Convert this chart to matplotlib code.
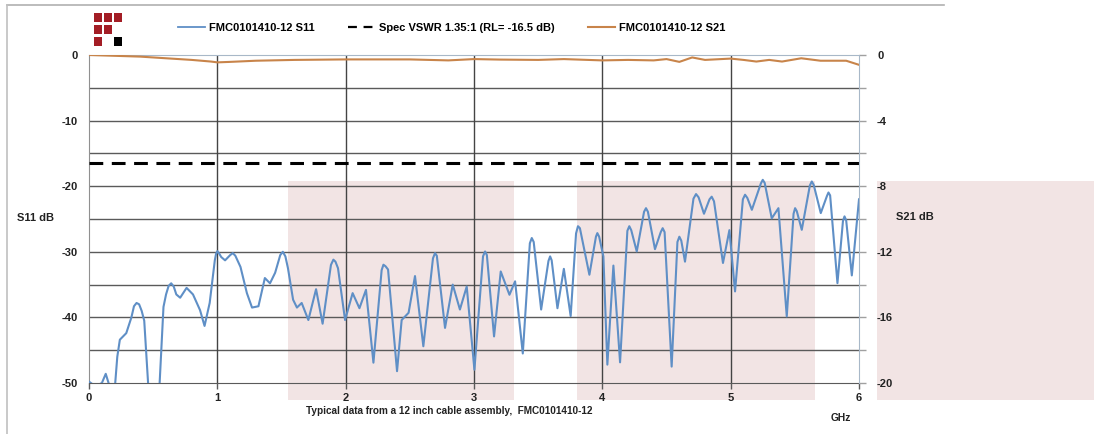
import matplotlib
matplotlib.use("Agg")
import matplotlib.pyplot as plt
from matplotlib.patches import Rectangle
from matplotlib.lines import Line2D

plt.rcParams['font.family'] = ['Liberation Sans', 'DejaVu Sans']
plt.rcParams['font.weight'] = 'bold'

# S11 return loss, GHz / dB, 10 per row
s11_freq = [0.0, 0.05, 0.1, 0.13, 0.16, 0.2, 0.22, 0.24, 0.29, 0.33,
            0.35, 0.37, 0.39, 0.41, 0.43, 0.46, 0.48, 0.53, 0.55, 0.58,
            0.60, 0.62, 0.64, 0.66, 0.68, 0.71, 0.76, 0.81, 0.865, 0.9,
            0.94, 0.98, 0.99, 1.0, 1.015, 1.03, 1.06, 1.10, 1.12, 1.14,
            1.18, 1.23, 1.27, 1.32, 1.37, 1.41, 1.45, 1.49, 1.51, 1.53,
            1.55, 1.59, 1.62, 1.657, 1.709, 1.769, 1.82, 1.885, 1.904, 1.92,
            1.94, 1.995, 2.054, 2.107, 2.158, 2.216, 2.28, 2.294, 2.31, 2.33,
            2.40, 2.436, 2.49, 2.54, 2.605, 2.68, 2.696, 2.71, 2.774, 2.834,
            2.89, 2.943, 3.003, 3.07, 3.086, 3.10, 3.156, 3.208, 3.276, 3.32,
            3.38, 3.435, 3.45, 3.465, 3.523, 3.58, 3.593, 3.605, 3.65, 3.70,
            3.753, 3.795, 3.81, 3.825, 3.899, 3.95, 3.961, 3.975, 4.008, 4.039,
            4.086, 4.138, 4.195, 4.21, 4.225, 4.268, 4.325, 4.34, 4.355, 4.41,
            4.455, 4.47, 4.485, 4.54, 4.585, 4.6, 4.615, 4.644, 4.71, 4.73,
            4.75, 4.792, 4.835, 4.852, 4.87, 4.94, 4.99, 5.034, 5.095, 5.112,
            5.13, 5.165, 5.235, 5.25, 5.265, 5.32, 5.372, 5.437, 5.49, 5.502,
            5.515, 5.554, 5.617, 5.632, 5.647, 5.702, 5.75, 5.762, 5.775, 5.832,
            5.875, 5.887, 5.9, 5.944, 6.0]
s11_db = [-49.8, -50.5, -50, -48.6, -50.5, -51, -46, -43.4, -42.4, -40,
          -38.3, -37.8, -38.0, -39.0, -40.5, -50, -56, -56, -50, -38.4,
          -36.5, -35.2, -34.8, -35.3, -36.5, -37, -35.5, -36.5, -38.9, -41.3,
          -37.8, -31.3, -30.3, -29.9, -30.3, -30.8, -31.3, -30.5, -30.2, -30.6,
          -32.3, -36.3, -38.5, -38.3, -34, -34.8, -33.2, -30.5, -30, -30.7,
          -32.5, -37.3, -38.5, -37.8, -40.4, -35.7, -40.96, -32, -31.2, -31.5,
          -32.5, -40.4, -36.3, -38.6, -35.8, -46.9, -32.8, -31.97, -32.2, -32.7,
          -48.2, -40.4, -39.3, -33.7, -44.4, -31, -30.2, -30.6, -41.6, -35.0,
          -38.8, -35.3, -47.97, -30.7, -29.95, -30.5, -42.9, -33.0, -36.55, -34.5,
          -45.5, -28.7, -27.9, -28.5, -38.8, -31.4, -30.7, -31.3, -38.6, -32.6,
          -39.8, -27.2, -26.1, -26.4, -33.5, -27.7, -27.15, -27.7, -30.7, -47.2,
          -32.1, -46.85, -26.8, -26.1, -26.7, -29.95, -23.9, -23.35, -23.9, -29.6,
          -27, -26.4, -27, -47.5, -28.5, -27.7, -28.3, -31.5, -21.9, -21.2,
          -21.7, -24.2, -22, -21.6, -22.3, -31.7, -26.7, -36.04, -22, -21.3,
          -21.8, -23.6, -19.6, -19.03, -19.5, -24.9, -23.35, -39.85, -24.2, -23.35,
          -23.8, -26.65, -19.9, -19.28, -19.8, -24.1, -21.5, -20.96, -21.4, -34.78,
          -25.3, -24.6, -25.2, -33.6, -22.0]

# S21 insertion loss, GHz / dB
s21_freq = [0.0, 0.2, 0.4, 0.6, 0.8, 0.95, 1.0, 1.1, 1.3, 1.6, 2.0, 2.5, 2.8, 3.0, 3.2,
            3.5, 3.7, 4.0, 4.2, 4.4, 4.5, 4.6, 4.7, 4.8, 5.0, 5.1, 5.2, 5.3, 5.4, 5.55,
            5.7, 5.9, 6.0]
s21_db = [0.0, -0.05, -0.1, -0.2, -0.3, -0.4, -0.45, -0.42, -0.35, -0.3, -0.27, -0.27,
          -0.33, -0.25, -0.28, -0.3, -0.25, -0.33, -0.3, -0.33, -0.25, -0.42, -0.15, -0.3,
          -0.22, -0.3, -0.4, -0.3, -0.4, -0.2, -0.35, -0.35, -0.6]

spec_rl = -16.5

# odd pink panels in the original image (GHz / dB of left axis)
pink_x = [(1.55, 3.31), (3.80, 5.66), (6.14, 7.85)]
pink_y = (-52.6, -19.2)

s11_ticks = [0, -5, -10, -15, -20, -25, -30, -35, -40, -45, -50]
s21_ticks = [0, -2, -4, -6, -8, -10, -12, -14, -16, -18, -20]
x_ticks = [0, 1, 2, 3, 4, 5, 6]

blue = '#5f8fc6'
orange = '#c8844a'
grid_c = '#5a5a5a'
txt_c = '#222222'

fig = plt.figure(figsize=(10.94, 4.34), dpi=100)
ax = fig.add_axes([0.0814, 0.1175, 0.7038, 0.7558])

for x0, x1 in pink_x:
    ax.add_patch(Rectangle((x0, pink_y[0]), x1 - x0, pink_y[1] - pink_y[0],
                           facecolor='#f2e4e4', edgecolor='none', zorder=0, clip_on=False))

ax.set_xlim(0, 6)
ax.set_ylim(-50, 0)
ax.set_xticks(x_ticks)
ax.set_yticks(s11_ticks)
ax.set_yticklabels([str(t) if t % 10 == 0 else '' for t in s11_ticks])
for y in s11_ticks[1:-1]:
    ax.axhline(y, color=grid_c, lw=1.0, zorder=1)
for x in x_ticks[1:-1]:
    ax.axvline(x, color='#444444', lw=1.0, zorder=1)

ax.plot(s11_freq, s11_db, color=blue, lw=1.5, zorder=3, solid_joinstyle='round')
ax.axhline(spec_rl, color='black', lw=2.2, ls=(0, (4.5, 2.8)), zorder=3)

ax.tick_params(axis='both', labelsize=8, colors=txt_c, length=4, width=1)
ax.tick_params(axis='x', pad=3, color=grid_c)
ax.tick_params(axis='y', pad=8, length=0)
ax.spines['left'].set_color('#909090')
ax.spines['bottom'].set_color(grid_c)
ax.spines['top'].set_color('#a8b8c8')
ax.spines['right'].set_visible(False)
for lab in ax.get_xticklabels() + ax.get_yticklabels():
    lab.set_fontweight('bold')

ax2 = ax.twinx()
ax2.set_ylim(-20, 0)
ax2.set_yticks(s21_ticks)
ax2.set_yticklabels([str(t) if t % 4 == 0 else '' for t in s21_ticks])
ax2.plot(s21_freq, s21_db, color=orange, lw=1.5, zorder=3)
ax2.tick_params(axis='y', labelsize=8, colors=txt_c, length=5, width=1, pad=8)
ax2.tick_params(axis='y', color='#a0a0a0')
ax2.spines['right'].set_color('#a8b8c8')
for s in ['left', 'top', 'bottom']:
    ax2.spines[s].set_visible(False)
for lab in ax2.get_yticklabels():
    lab.set_fontweight('bold')

fig.text(0.032, 0.497, 'S11 dB', fontsize=8, fontweight='bold', color=txt_c, ha='center', va='center')
fig.text(0.836, 0.499, 'S21 dB', fontsize=8, fontweight='bold', color=txt_c, ha='center', va='center')
fig.text(0.411, 0.053, 'Typical data from a 12 inch cable assembly,  FMC0101410-12',
         fontsize=7.2, fontweight='bold', color=txt_c, ha='center', va='center')
fig.text(0.769, 0.037, 'GHz', fontsize=7.4, fontweight='bold', color=txt_c, ha='center', va='center')

handles = [Line2D([], [], color=blue, lw=1.3),
           Line2D([], [], color='black', lw=1.6, ls=(0, (4, 3))),
           Line2D([], [], color=orange, lw=1.5)]
labels = ['FMC0101410-12 S11', 'Spec VSWR 1.35:1 (RL= -16.5 dB)', 'FMC0101410-12 S21']
fig.legend(handles, labels, loc='center', bbox_to_anchor=(0.413, 0.935), ncol=3,
           frameon=False, prop={'size': 8, 'weight': 'bold'}, handlelength=2.4,
           handletextpad=0.4, columnspacing=3.0)

# frame lines of the original page
fig.add_artist(Line2D([0.0064, 0.863], [0.988, 0.988], color='#b0b0b0', lw=1.2))
fig.add_artist(Line2D([0.0064, 0.0064], [0.0, 0.988], color='#c0c0c0', lw=1.2))

# logo squares
logo_red = '#a31d25'
sq = 0.0078
for (cx, cy, c) in [(0, 0, logo_red), (1, 0, logo_red), (2, 0, logo_red),
                    (0, 1, logo_red), (1, 1, logo_red), (0, 2, logo_red), (2, 2, 'black')]:
    fig.add_artist(Rectangle((0.0855 + cx * 0.0092, 0.97 - cy * 0.0275 - 0.02), sq, 0.02,
                             facecolor=c, edgecolor='none'))

fig.savefig('out.png', dpi=100)
